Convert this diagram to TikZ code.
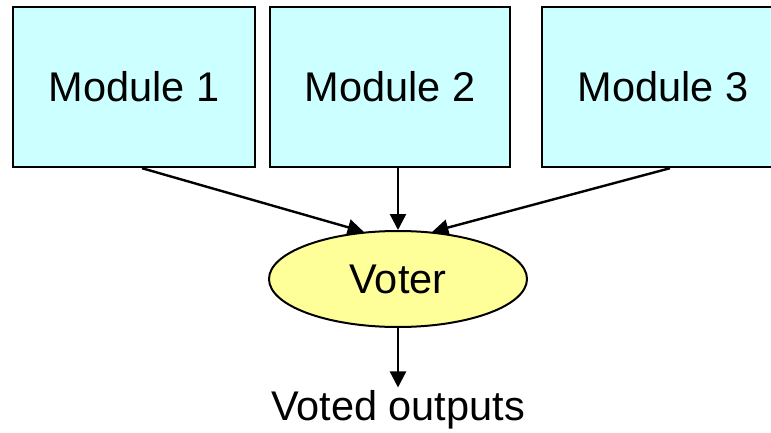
\documentclass[tikz,border=0pt]{standalone}
\usepackage{fontspec}
\setmainfont{Liberation Sans}
\usepackage{tikz}
\usetikzlibrary{arrows.meta,shapes.geometric}

\definecolor{modulecyan}{HTML}{CCFFFF}
\definecolor{voteryellow}{HTML}{FFFF99}

\begin{document}
\begin{tikzpicture}[x=1pt, y=-1pt, font=\fontsize{41.5}{49}\selectfont]
    \tikzstyle{module_style} = [rectangle,draw=black,fill=modulecyan,line width=2.4pt,minimum width=242pt,minimum height=160pt,inner sep=0pt]
    \tikzstyle{voter_style} = [ellipse,draw=black,fill=voteryellow,line width=2pt,minimum width=258pt,minimum height=96pt,inner sep=0pt]
    \tikzstyle{edge_style} = [draw=black, line width=2.4pt, -{Triangle[length=16pt,width=16pt]}]
    \useasboundingbox (0,0) rectangle (771,433);
    \clip (0,0) rectangle (771,433);
    \node[module_style] (m1) at (134,87) {Module 1};
    \node[module_style, minimum width=240pt] (m2) at (390,87) {Module 2};
    \node[module_style] (m3) at (663,87) {Module 3};
    \node[voter_style] (voter) at (398,279) {Voter};
    \node[inner sep=0pt] (out) at (398,410) {Voted outputs};

    \draw[edge_style]  ([xshift=8pt]m1.south) -- (voter.126);
    \draw[edge_style]  ([xshift=8pt]m2.south) -- (voter.north);
    \draw[edge_style]  ([xshift=7pt]m3.south) -- (voter.54);
    \draw[edge_style]  (voter.south) -- ([yshift=3pt]out.north);
\end{tikzpicture}
\end{document}
